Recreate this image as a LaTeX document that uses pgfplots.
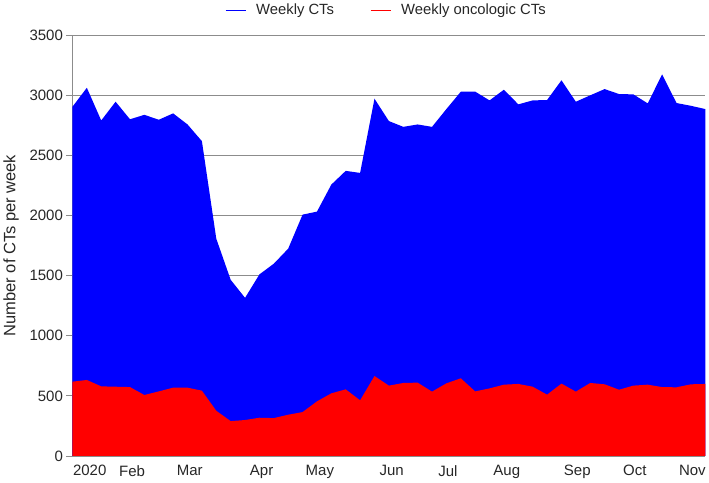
\documentclass[border=0pt]{standalone}
\usepackage{fontspec}
\setmainfont{Liberation Sans}
\usepackage{pgfplots}
\usepackage{pgfplotstable}
\pgfplotsset{compat=1.18}
\pgfplotstableread{
w total onco
0 2904 618
1 3062 632
2 2790 579
3 2946 576
4 2800 573
5 2837 507
6 2796 537
7 2849 568
8 2757 568
9 2618 543
10 1807 376
11 1465 290
12 1315 299
13 1510 318
14 1599 315
15 1724 343
16 2007 365
17 2032 454
18 2257 521
19 2371 554
20 2354 463
21 2971 665
22 2785 585
23 2737 607
24 2757 610
25 2737 535
26 2885 604
27 3029 646
28 3030 537
29 2957 562
30 3046 593
31 2924 599
32 2957 576
33 2960 510
34 3124 602
35 2946 535
36 2999 607
37 3051 596
38 3010 551
39 3007 585
40 2932 593
41 3174 573
42 2935 571
43 2912 596
44 2885 599
}\data
\begin{document}
\begin{tikzpicture}
\begin{axis}[
  scale only axis, width=633pt, height=421pt,
  xmin=0, xmax=44, ymin=0, ymax=3500,
  ytick={0,500,...,3500},
  xtick={1.2,4.15,8.15,13.15,17.2,22.2,26.1,30.2,35.1,39.1,43.1},
  xticklabels={2020,Feb,Mar,Apr,May,Jun,Jul,Aug,Sep,Oct,Nov},
  ymajorgrids, grid style={gray!90, line width=0.9pt},
  axis x line*=bottom, axis y line*=left,
  axis line style={gray!90, line width=0.9pt},
  x tick style={draw=none},
  y tick style={gray!90, line width=0.9pt},
  tick align=outside, major tick length=6pt,
  ticklabel style={font=\fontsize{15}{18}\selectfont, text=black!85},
  /pgf/number format/assume math mode=true,
  /pgf/number format/1000 sep={},
  ylabel={Number of CTs per week},
  ylabel style={font=\fontsize{16.5}{19}\selectfont, text=black!85, yshift=4pt},
  legend style={draw=none, fill=none, legend columns=2, at={(0.496,1)}, anchor=center, yshift=25pt,
    font=\fontsize{14.8}{17}\selectfont,
    /tikz/every odd column/.append style={column sep=8pt},
    /tikz/every even column/.append style={column sep=34pt}},
  legend image code/.code={\draw[#1, line width=1.2pt] (0pt,0pt) -- (20pt,0pt);},
]
\addlegendimage{blue}
\addlegendentry{\textcolor{black!85}{Weekly CTs}}
\addlegendimage{red}
\addlegendentry{\textcolor{black!85}{Weekly oncologic CTs}}
\addplot[fill=blue, draw=none, forget plot] table[x=w, y=total] {\data} \closedcycle;
\addplot[fill=red, draw=none, forget plot] table[x=w, y=onco] {\data} \closedcycle;
\end{axis}
\end{tikzpicture}
\end{document}
